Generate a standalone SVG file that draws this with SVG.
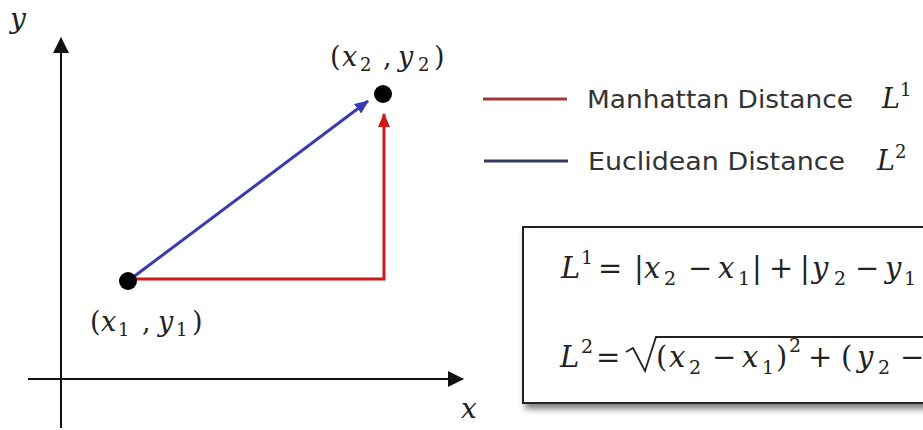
<svg xmlns="http://www.w3.org/2000/svg" width="923" height="430" viewBox="0 0 923 430">
<defs>
<style>
.ax{stroke:#111;stroke-width:2;fill:none}
.m{font-family:"DejaVu Serif","Liberation Serif",serif;font-style:italic;fill:#222}
.n{font-family:"DejaVu Serif","Liberation Serif",serif;font-style:normal;fill:#222}
.lg{font-family:"DejaVu Sans","Liberation Sans",sans-serif;font-size:25px;fill:#333}
</style>
<marker id="ak" viewBox="0 0 16 16" refX="15" refY="8" markerWidth="16" markerHeight="16" markerUnits="userSpaceOnUse" orient="auto"><path d="M0,0 L16,8 L0,16 Z" fill="#111"/></marker>
<marker id="ar" viewBox="0 0 14 12" refX="13" refY="6" markerWidth="14" markerHeight="12" markerUnits="userSpaceOnUse" orient="auto"><path d="M0,0 L14,6 L0,12 Z" fill="#d01818"/></marker>
<marker id="ab" viewBox="0 0 14 12" refX="13" refY="6" markerWidth="14" markerHeight="12" markerUnits="userSpaceOnUse" orient="auto"><path d="M0,0 L14,6 L0,12 Z" fill="#3a3ab0"/></marker>
<filter id="sh" x="-5%" y="-5%" width="115%" height="125%"><feGaussianBlur in="SourceAlpha" stdDeviation="3"/><feOffset dx="3" dy="5"/><feComponentTransfer><feFuncA type="linear" slope="0.5"/></feComponentTransfer><feMerge><feMergeNode/><feMergeNode in="SourceGraphic"/></feMerge></filter>
</defs>
<rect width="923" height="430" fill="#fff"/>
<g id="connectors">
<line class="ax" x1="61" y1="428" x2="61" y2="38" marker-end="url(#ak)"/>
<line class="ax" x1="28" y1="379" x2="463" y2="379" marker-end="url(#ak)"/>
<path d="M130,279 L384,279 L384,114" stroke="#d01818" stroke-width="3" fill="none" marker-end="url(#ar)"/>
<line x1="132" y1="278" x2="368" y2="101" stroke="#3a3ab0" stroke-width="3" marker-end="url(#ab)"/>
</g>
<g id="axis-labels">
<text class="m" x="10" y="28" font-size="28">y</text>
<text class="m" x="461" y="418" font-size="28">x</text>
</g>
<g id="p1">
<circle cx="128" cy="281" r="9" fill="#000"/>
<text class="n" font-size="27" y="331"><tspan x="90">(</tspan><tspan class="m" x="101">x</tspan><tspan x="118" y="336" font-size="18">1</tspan><tspan x="142" y="331">,</tspan><tspan class="m" x="158">y</tspan><tspan x="176" y="336" font-size="18">1</tspan><tspan x="192" y="331">)</tspan></text>
</g>
<g id="p2">
<circle cx="383" cy="94" r="9" fill="#000"/>
<text class="n" font-size="27" y="66"><tspan x="330">(</tspan><tspan class="m" x="342">x</tspan><tspan x="360" y="71" font-size="18">2</tspan><tspan x="383" y="66">,</tspan><tspan class="m" x="398">y</tspan><tspan x="418" y="71" font-size="18">2</tspan><tspan x="434" y="66">)</tspan></text>
</g>
<g id="legend-manhattan">
<line x1="483" y1="99" x2="567" y2="99" stroke="#a53a3e" stroke-width="3"/>
<text class="lg" x="587" y="108" textLength="266" lengthAdjust="spacingAndGlyphs">Manhattan Distance</text>
<text class="m" font-size="27" x="882" y="108">L<tspan class="n" font-size="18" dy="-12">1</tspan></text>
</g>
<g id="legend-euclidean">
<line x1="484" y1="161" x2="568" y2="161" stroke="#343a60" stroke-width="3"/>
<text class="lg" x="588" y="170" textLength="257" lengthAdjust="spacingAndGlyphs">Euclidean Distance</text>
<text class="m" font-size="27" x="877" y="170">L<tspan class="n" font-size="18" dy="-12">2</tspan></text>
</g>
<g id="formula-box">
<rect x="523" y="227" width="420" height="176" fill="#fff" stroke="#222" stroke-width="2" filter="url(#sh)"/>
<text class="n" font-size="29" y="278"><tspan class="m" x="561">L</tspan><tspan x="581" y="264" font-size="19">1</tspan><tspan x="598" y="278">=</tspan><tspan x="634">|</tspan><tspan class="m" x="644">x</tspan><tspan x="664" y="285" font-size="19">2</tspan><tspan x="688" y="278">−</tspan><tspan class="m" x="718">x</tspan><tspan x="738" y="285" font-size="19">1</tspan><tspan x="752" y="278">|</tspan><tspan x="769">+</tspan><tspan x="800">|</tspan><tspan class="m" x="812">y</tspan><tspan x="834" y="285" font-size="19">2</tspan><tspan x="855" y="278">−</tspan><tspan class="m" x="885">y</tspan><tspan x="904" y="285" font-size="19">1</tspan></text>
<path d="M626,352 L633,348 L645,371 L656,337 L923,337" stroke="#222" stroke-width="1.8" fill="none"/>
<text class="n" font-size="29" y="367"><tspan x="560" class="m">L</tspan><tspan x="581" y="353" font-size="19">2</tspan><tspan x="596" y="367">=</tspan><tspan x="656">(</tspan><tspan class="m" x="669">x</tspan><tspan x="689" y="374" font-size="19">2</tspan><tspan x="712" y="367">−</tspan><tspan class="m" x="742">x</tspan><tspan x="762" y="374" font-size="19">1</tspan><tspan x="776" y="367">)</tspan><tspan x="789" y="352" font-size="19">2</tspan><tspan x="808" y="367">+</tspan><tspan x="841">(</tspan><tspan class="m" x="857">y</tspan><tspan x="878" y="374" font-size="19">2</tspan><tspan x="900" y="367">−</tspan></text>
</g>
</svg>
